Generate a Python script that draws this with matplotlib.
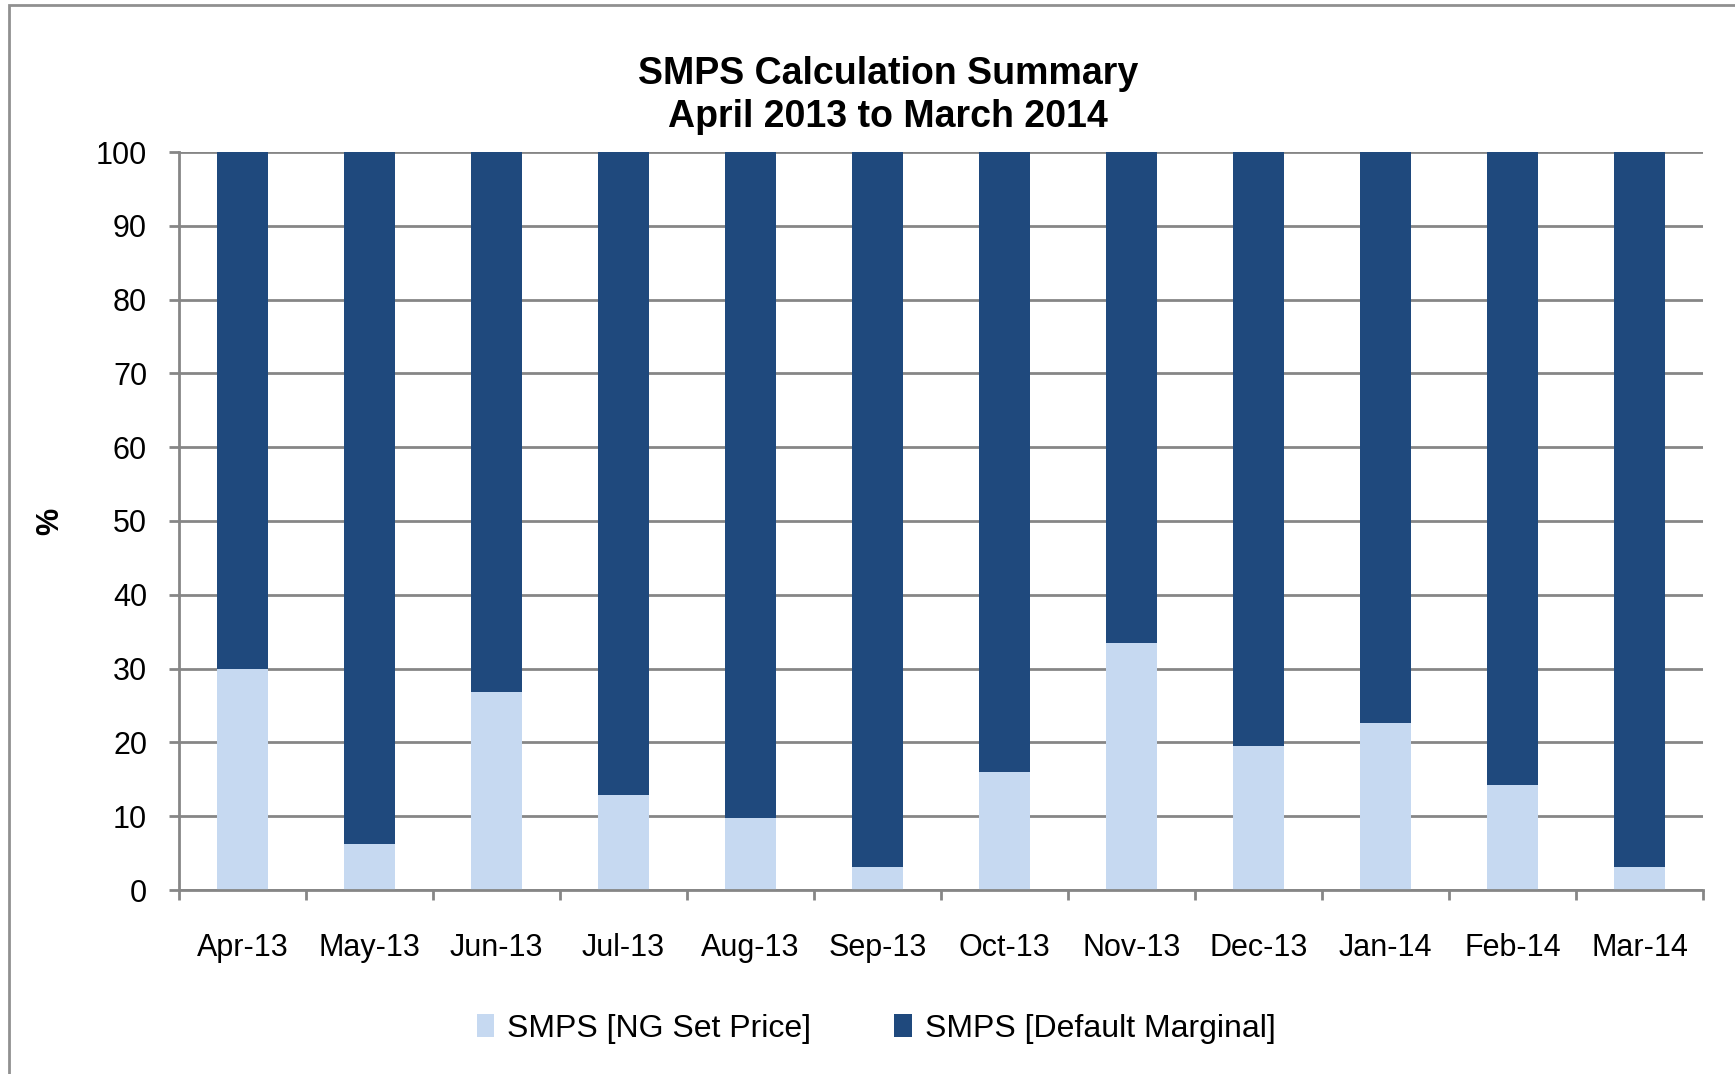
import numpy as np
import matplotlib.pyplot as plt
from matplotlib.patches import Rectangle

plt.rcParams["font.family"] = ["Liberation Sans", "DejaVu Sans"]

months = ["Apr-13", "May-13", "Jun-13", "Jul-13", "Aug-13", "Sep-13",
          "Oct-13", "Nov-13", "Dec-13", "Jan-14", "Feb-14", "Mar-14"]
ng_set_price = [30.0, 6.3, 26.8, 12.9, 9.7, 3.1, 16.0, 33.5, 19.5, 22.6, 14.2, 3.1]
default_marginal = [100 - v for v in ng_set_price]

light = "#C6D9F1"
dark = "#1F497D"
grey = "#868686"

fig = plt.figure(figsize=(17.35, 10.74), dpi=100)
ax = fig.add_axes([179 / 1735, 1 - 890 / 1074, (1703 - 179) / 1735, (890 - 152) / 1074])

x = np.arange(len(months))
ax.bar(x, ng_set_price, width=0.40, color=light, label="SMPS [NG Set Price]", zorder=3)
ax.bar(x, default_marginal, width=0.40, bottom=ng_set_price, color=dark,
       label="SMPS [Default Marginal]", zorder=3)

ax.set_xlim(-0.5, len(months) - 0.5)
ax.set_ylim(0, 100)
ax.set_yticks(range(0, 101, 10))
ax.set_xticks(x)
ax.set_xticklabels(months, fontsize=22)
ax.set_xticks(np.arange(-0.5, len(months), 1), minor=True)
ax.tick_params(axis="x", which="major", length=0, pad=31)
ax.tick_params(axis="x", which="minor", length=7, width=2, color=grey, direction="out")
ax.tick_params(axis="y", labelsize=22, length=7, width=2, color=grey, pad=16)
ax.yaxis.grid(True, color=grey, linewidth=2, zorder=0)

for side in ["top", "right"]:
    ax.spines[side].set_visible(False)
for side in ["left", "bottom"]:
    ax.spines[side].set_color(grey)
    ax.spines[side].set_linewidth(2)
    ax.spines[side].set_zorder(4)

ax.set_ylabel("%", fontsize=22, fontweight="bold", labelpad=22)

fig.text(0.512, 0.931, "SMPS Calculation Summary", ha="center", va="center",
         fontsize=27, fontweight="bold")
fig.text(0.512, 0.891, "April 2013 to March 2014", ha="center", va="center",
         fontsize=27, fontweight="bold")

fig.legend(loc="center", bbox_to_anchor=(0.505, 0.042), ncol=2, frameon=False,
           fontsize=23, handlelength=0.55, handleheight=0.75, columnspacing=2.6,
           handletextpad=0.4)

fig.patches.append(Rectangle((9 / 1735, -0.1), 1.2, 1 - 5 / 1074 + 0.1,
                             transform=fig.transFigure, fill=False,
                             edgecolor="#909090", linewidth=2))

fig.savefig("out.png", dpi=100)
